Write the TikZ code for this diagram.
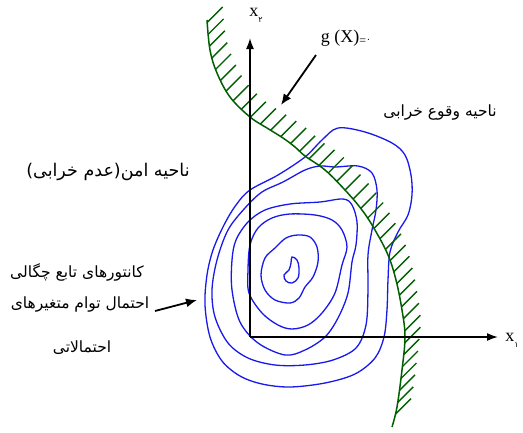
\documentclass[tikz,border=0pt]{standalone}
\usepackage{fontspec}
\setmainfont{Liberation Serif}
\newfontfamily\fa[Script=Arabic]{DejaVu Sans}
\TeXXeTstate=1
\usetikzlibrary{arrows.meta,decorations.markings}
\definecolor{cblue}{RGB}{25,25,235}
\definecolor{hgreen}{RGB}{0,95,0}
\begin{document}
\begin{tikzpicture}[x=1pt,y=-1pt,
  contour/.style={cblue, line width=1.3pt},
  axisline/.style={black, line width=1.6pt, -{Latex[length=11pt,width=8pt]}},
  pointer/.style={black, line width=1.8pt, -{Latex[length=11pt,width=9pt]}},
  limit/.style={hgreen, line width=1.5pt, postaction={decorate},
    decoration={markings, mark=between positions 0.005 and 0.99 step 12pt with
      {\pgftransformresetnontranslations \draw[hgreen,line width=1.4pt] (0,0) -- (15.5pt,15.5pt);}}},
  fatext/.style={font=\fa\fontsize{15.5}{18}\selectfont, inner sep=1pt},
  latin/.style={font=\fontsize{18}{20}\selectfont, inner sep=1pt}]
\useasboundingbox (0,0) rectangle (523,432);
\fill[white] (0,0) rectangle (523,432);

% contours
\draw[contour] plot[smooth cycle, tension=0.55] coordinates {
  (250,190) (278,175) (305,157) (322,140) (338,128) (365,132) (392,143) (405,155)
  (411,175) (412,195) (408,215) (398,232) (390,252) (388,280) (387,310) (384,337)
  (375,358) (355,374) (325,383) (290,387) (262,384) (240,376) (222,361) (210,337)
  (205,305) (207,275) (213,250) (224,225) (236,205)};
\draw[contour] plot[smooth cycle, tension=0.55] coordinates {
  (245,208) (262,192) (283,182) (305,170) (320,166) (335,167) (358,166) (372,173)
  (377,190) (376,210) (372,230) (368,255) (368,290) (366,325) (356,348) (333,360)
  (305,365) (275,365) (248,358) (228,343) (215,317) (212,290) (217,260) (228,230)};
\draw[contour] plot[smooth cycle, tension=0.55] coordinates {
  (236,240) (248,222) (265,210) (290,204) (320,202) (343,199) (352,205) (357,222)
  (356,245) (352,262) (348,293) (338,318) (325,337) (305,350) (285,355) (258,343)
  (240,322) (232,290) (232,260)};
\draw[contour] plot[smooth cycle, tension=0.55] coordinates {
  (250,245) (258,228) (272,218) (290,214) (315,215) (332,220) (342,230) (347,247)
  (342,265) (335,293) (322,313) (308,325) (292,329) (278,325) (262,313) (249,293)
  (248,270)};
\draw[contour] plot[smooth cycle, tension=0.55] coordinates {
  (265,258) (275,248) (286,238) (298,235) (310,237) (317,247) (318,262) (313,277)
  (305,287) (299,298) (290,303) (275,300) (265,290) (261,275)};
\draw[contour] plot[smooth cycle, tension=0.6] coordinates {
  (292,257) (297,260) (299,268) (298,278) (292,283) (286,281) (284,275) (289,270)
  (291,263)};

% limit state curve
\draw[limit] plot[smooth, tension=0.6] coordinates {
  (207,20) (210,50) (217,73) (230,97) (250,117) (267,128) (283,138) (295,147)
  (305,156) (325,170) (345,190) (362,210) (375,230) (388,255) (396,280) (402,310)
  (405,337) (402,370) (397,407) (392,427)};

% axes
\coordinate (o) at (250,337);
\coordinate (x1end) at (498,337);
\coordinate (x2end) at (250,38);
\draw[axisline] (o) -- (x1end);
\draw[axisline] (o) -- (x2end);
\node[latin] (x1lab) at (512,340) {x\raisebox{-6pt}{\fa\fontsize{8}{9}\selectfont ۱}};
\node[latin] (x2lab) at (256,15) {x\raisebox{-6pt}{\fa\fontsize{8}{9}\selectfont ۲}};

% g(X)=0 label and arrow
\node[latin] (glab) at (346,38) {g (X)\raisebox{-2pt}{\fontsize{12}{12}\selectfont=}{\fa\fontsize{9}{9}\selectfont ۰}};
\coordinate (gs) at (316,55);
\coordinate (ge) at (281,105);
\draw[pointer] (gs) -- (ge);

% Persian labels
\node[fatext] (fail) at (440,112) {\beginR ناحیه وقوع خرابی\endR};
\node[fatext, font=\fa\fontsize{17.5}{20}\selectfont] (safe) at (108,172) {\beginR ناحیه امن(عدم خرابی)\endR};
\node[fatext] (c1) at (77,272) {\beginR کانتورهای تابع چگالی\endR};
\node[fatext] (c2) at (80,304) {\beginR احتمال توام متغیرهای\endR};
\node[fatext] (c3) at (82,348) {\beginR احتمالاتی\endR};
\coordinate (cs) at (155,311);
\coordinate (ce) at (197,300);
\draw[pointer] (cs) -- (ce);
\end{tikzpicture}
\end{document}
